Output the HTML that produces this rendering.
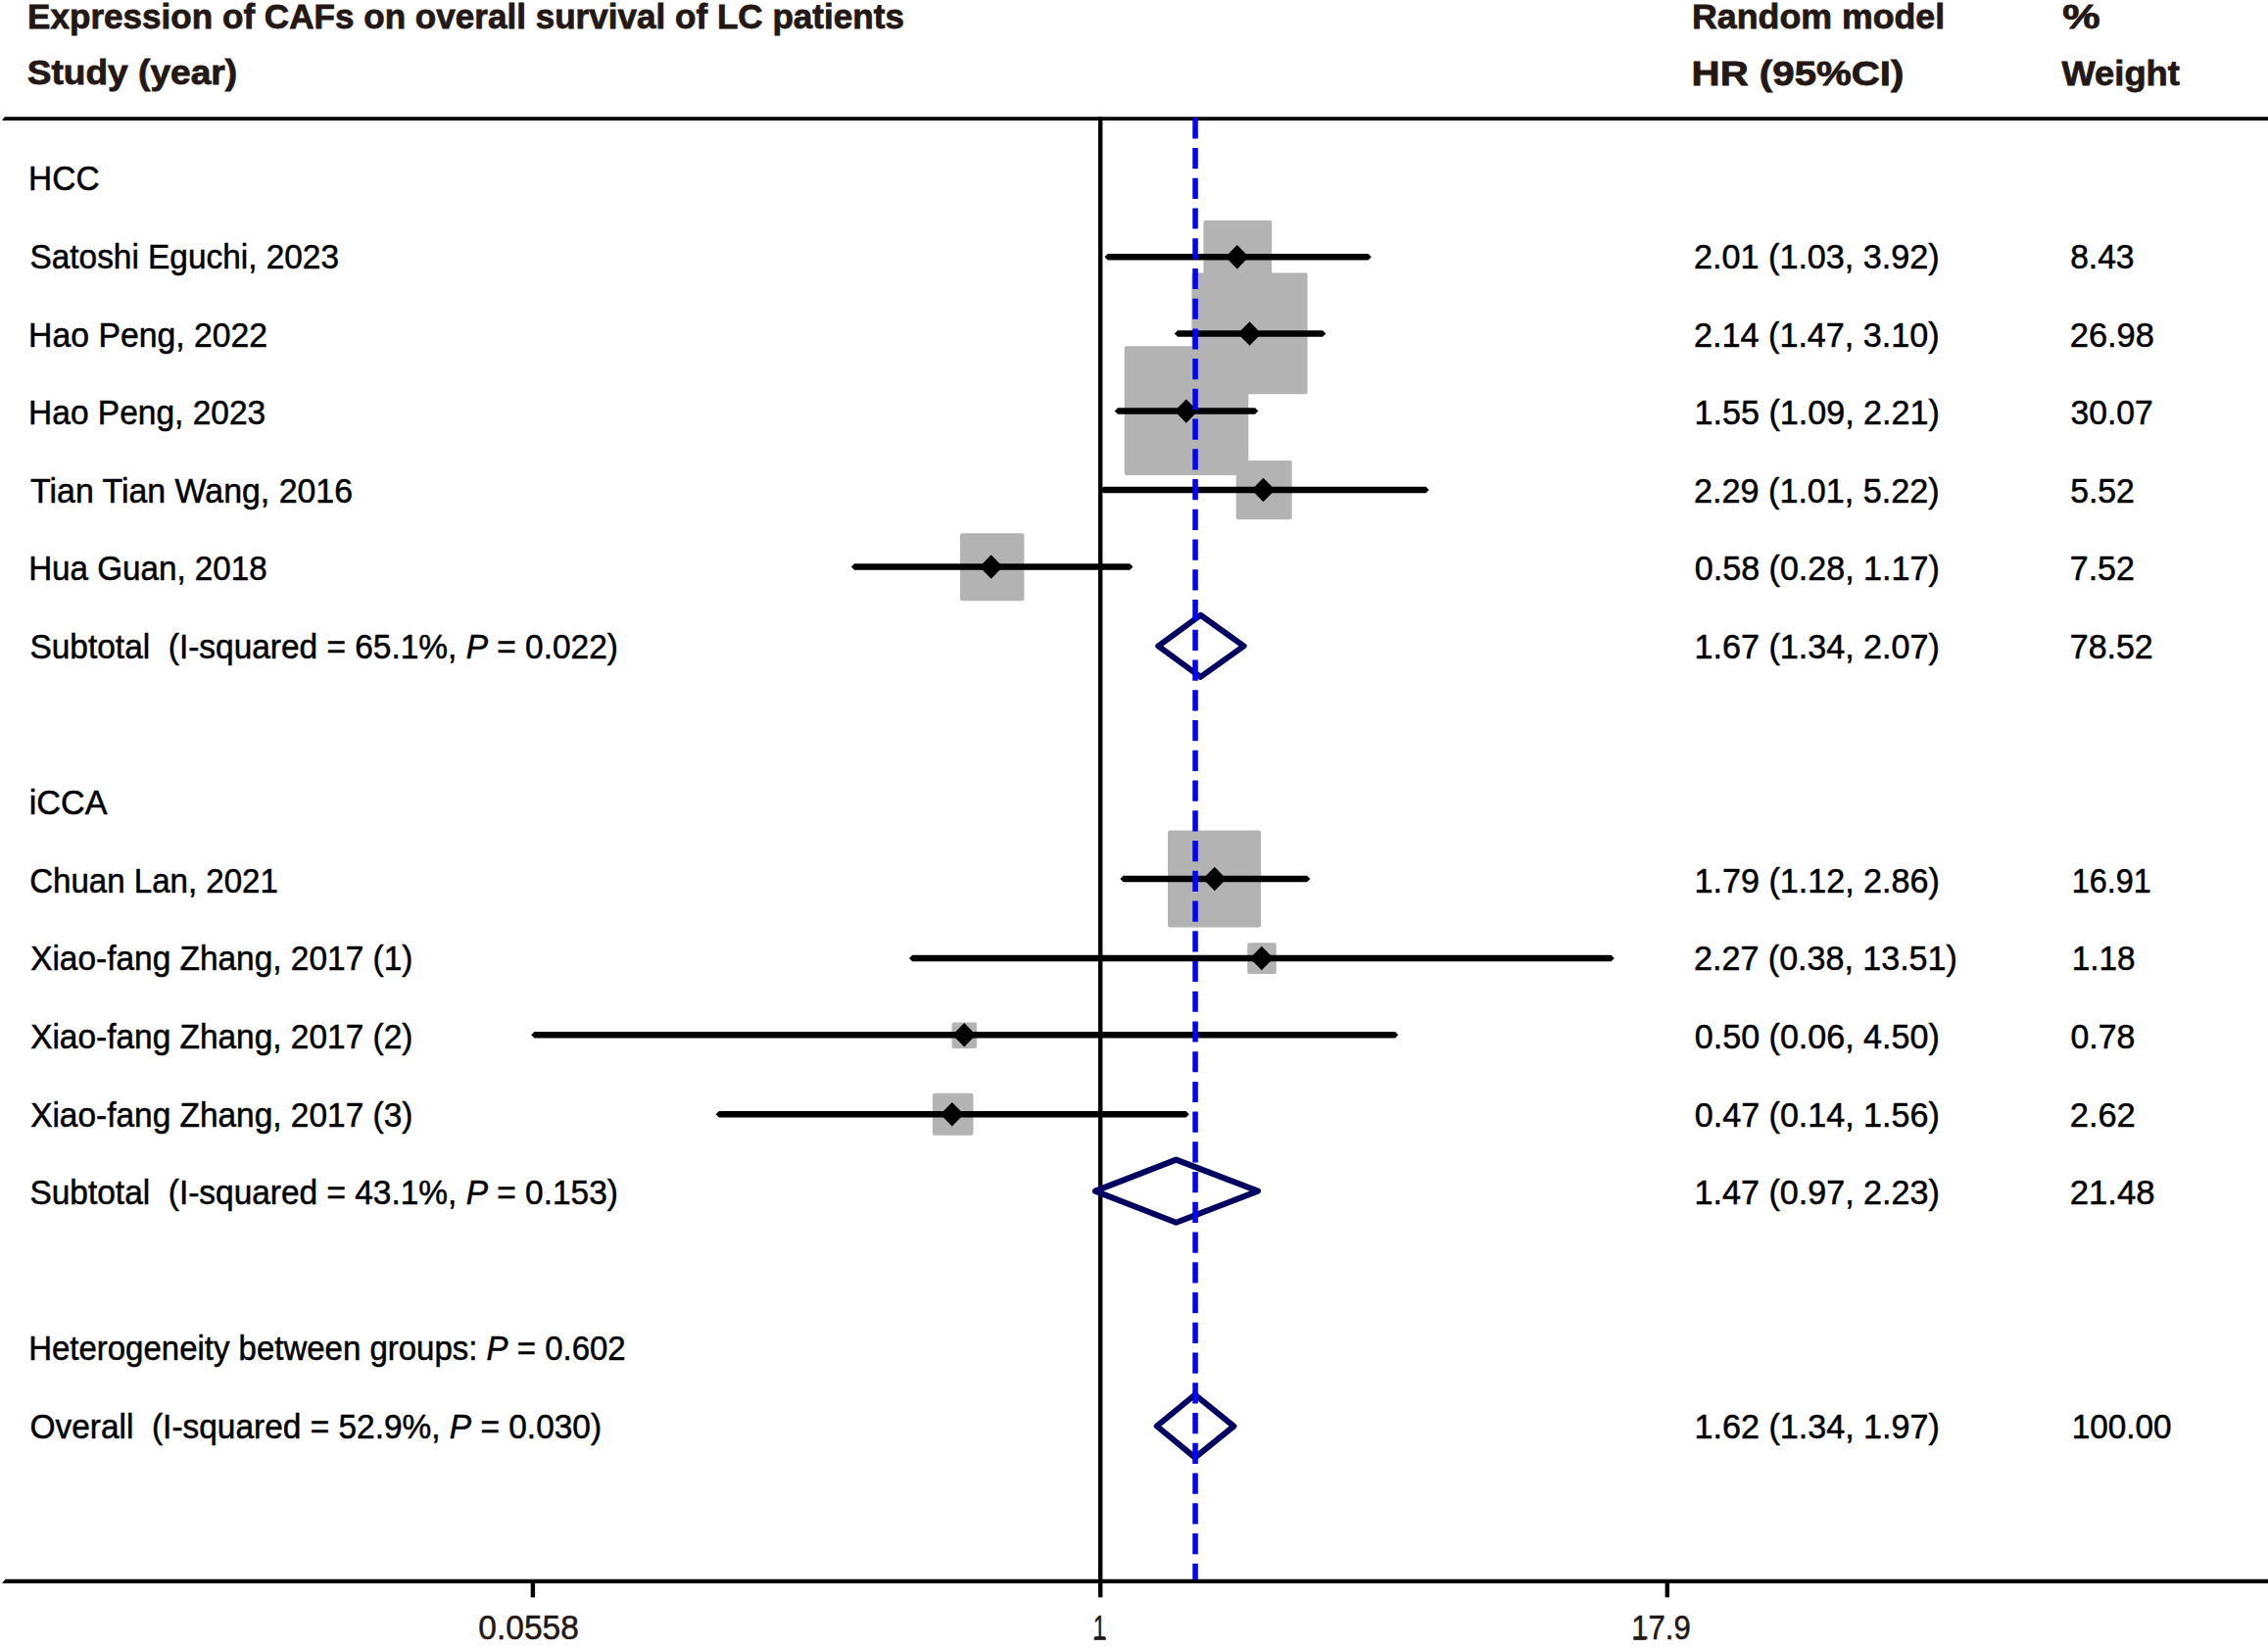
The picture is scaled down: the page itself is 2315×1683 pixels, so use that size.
<!DOCTYPE html>
<html><head><meta charset="utf-8"><style>
html,body{margin:0;padding:0;background:#fff;}
svg{display:block;}
text{font-family:'Liberation Sans', sans-serif;white-space:pre;}
</style></head><body>
<svg width="2315" height="1683" viewBox="0 0 2315 1683">
<rect width="2315" height="1683" fill="#fff"/>
<path d="M4.8 119.2 L2315 119.2 L2315 123.0 L2.0 123.0 Z" fill="#000"/>
<rect x="1121.0" y="119.2" width="4.4" height="1511.1" fill="#000"/>
<path d="M5.5 1611.8 L2315 1611.8 L2315 1616.1 L2.1 1616.1 Z" fill="#000"/>
<rect x="541.7" y="1614" width="4.4" height="16.3" fill="#000"/>
<rect x="1699.6" y="1614" width="4.4" height="16.3" fill="#000"/>
<rect x="1228.4" y="224.9" width="69.8" height="72.6" rx="2" fill="#b3b3b3"/>
<rect x="1216.4" y="278.4" width="118.2" height="123.9" rx="2" fill="#b3b3b3"/>
<rect x="1147.8" y="353.3" width="126.5" height="131.7" rx="2" fill="#b3b3b3"/>
<rect x="1261.7" y="469.9" width="57.0" height="60.3" rx="2" fill="#b3b3b3"/>
<rect x="980.0" y="544.2" width="65.4" height="69.1" rx="2" fill="#b3b3b3"/>
<rect x="1192.0" y="847.6" width="95.0" height="98.8" rx="2" fill="#b3b3b3"/>
<rect x="1273.2" y="962.3" width="29.6" height="31.7" rx="2" fill="#b3b3b3"/>
<rect x="971.6" y="1043.4" width="25.4" height="26.5" rx="2" fill="#b3b3b3"/>
<rect x="951.9" y="1115.7" width="41.6" height="43.0" rx="2" fill="#b3b3b3"/>
<path d="M1127.50 262.20 L1130.75 258.95 L1396.55 258.95 L1399.80 262.20 L1396.55 265.45 L1130.75 265.45 Z" fill="#000"/>
<path d="M1250.8 262.2 L1262.8 250.0 L1274.8 262.2 L1262.8 274.4 Z" fill="#000"/>
<path d="M1198.80 340.50 L1202.05 337.25 L1350.05 337.25 L1353.30 340.50 L1350.05 343.75 L1202.05 343.75 Z" fill="#000"/>
<path d="M1263.5 340.5 L1275.5 328.3 L1287.5 340.5 L1275.5 352.7 Z" fill="#000"/>
<path d="M1137.70 419.60 L1140.95 416.35 L1281.05 416.35 L1284.30 419.60 L1281.05 422.85 L1140.95 422.85 Z" fill="#000"/>
<path d="M1198.8 419.6 L1210.8 407.4 L1222.8 419.6 L1210.8 431.8 Z" fill="#000"/>
<path d="M1123.00 500.00 L1126.25 496.75 L1455.35 496.75 L1458.60 500.00 L1455.35 503.25 L1126.25 503.25 Z" fill="#000"/>
<path d="M1277.5 500.0 L1289.5 487.8 L1301.5 500.0 L1289.5 512.2 Z" fill="#000"/>
<path d="M868.80 578.50 L872.05 575.25 L1153.25 575.25 L1156.50 578.50 L1153.25 581.75 L872.05 581.75 Z" fill="#000"/>
<path d="M999.7 578.5 L1011.7 566.3 L1023.7 578.5 L1011.7 590.7 Z" fill="#000"/>
<path d="M1143.40 897.00 L1146.65 893.75 L1334.15 893.75 L1337.40 897.00 L1334.15 900.25 L1146.65 900.25 Z" fill="#000"/>
<path d="M1227.8 897.0 L1239.8 884.8 L1251.8 897.0 L1239.8 909.2 Z" fill="#000"/>
<path d="M928.00 978.00 L931.25 974.75 L1644.55 974.75 L1647.80 978.00 L1644.55 981.25 L931.25 981.25 Z" fill="#000"/>
<path d="M1275.8 978.0 L1287.8 965.8 L1299.8 978.0 L1287.8 990.2 Z" fill="#000"/>
<path d="M542.20 1056.30 L545.45 1053.05 L1424.05 1053.05 L1427.30 1056.30 L1424.05 1059.55 L545.45 1059.55 Z" fill="#000"/>
<path d="M972.2 1056.3 L984.2 1044.1 L996.2 1056.3 L984.2 1068.5 Z" fill="#000"/>
<path d="M730.60 1137.20 L733.85 1133.95 L1210.65 1133.95 L1213.90 1137.20 L1210.65 1140.45 L733.85 1140.45 Z" fill="#000"/>
<path d="M959.8 1137.2 L971.8 1125.0 L983.8 1137.2 L971.8 1149.4 Z" fill="#000"/>
<path d="M1182.30 659.35 L1225.40 627.80 L1269.60 659.35 L1225.40 690.90 Z" fill="none" stroke="#000060" stroke-width="6.0" stroke-linejoin="round"/>
<path d="M1117.90 1215.65 L1200.50 1183.60 L1284.00 1215.65 L1200.50 1247.70 Z" fill="none" stroke="#000060" stroke-width="6.0" stroke-linejoin="round"/>
<path d="M1180.80 1455.55 L1219.80 1423.50 L1259.40 1455.55 L1219.80 1487.60 Z" fill="none" stroke="#000060" stroke-width="6.0" stroke-linejoin="round"/>
<rect x="1116.7" y="1671.1" width="12.1" height="2.7" fill="#231815"/>
<rect x="1667.6" y="1671.1" width="12.2" height="2.7" fill="#231815"/>
<line x1="1220.05" y1="120.2" x2="1220.05" y2="1612" stroke="#0000ff" stroke-width="5.5" stroke-dasharray="21.2 9.54"/>
<text transform="translate(28.09 28.80) scale(0.9886 0.975)" font-size="35.5" font-weight="bold" fill="#231815" stroke="#231815" stroke-width="0.8">Expression of CAFs on overall survival of LC patients</text>
<text transform="translate(27.66 86.00) scale(1.0462 0.975)" font-size="35.5" font-weight="bold" fill="#231815" stroke="#231815" stroke-width="0.8">Study (year)</text>
<text transform="translate(1727.06 29.30) scale(1.0069 0.975)" font-size="35.5" font-weight="bold" fill="#231815" stroke="#231815" stroke-width="0.8">Random model</text>
<text transform="translate(2105.14 29.30) scale(1.2162 0.975)" font-size="35.5" font-weight="bold" fill="#231815" stroke="#231815" stroke-width="0.8">%</text>
<text transform="translate(1726.58 86.50) scale(1.1339 0.975)" font-size="35.5" font-weight="bold" fill="#231815" stroke="#231815" stroke-width="0.8">HR (95%CI)</text>
<text transform="translate(2104.50 86.50) scale(1.0233 0.975)" font-size="35.5" font-weight="bold" fill="#231815" stroke="#231815" stroke-width="0.8">Weight</text>
<text transform="translate(29.12 194.45) scale(1.0012 1.06)" font-size="33.4" font-weight="normal" fill="#000" stroke="#000" stroke-width="0.5">HCC</text>
<text transform="translate(30.46 274.05) scale(0.9996 1.06)" font-size="33.4" font-weight="normal" fill="#000" stroke="#000" stroke-width="0.5">Satoshi Eguchi, 2023</text>
<text transform="translate(29.10 353.65) scale(1.0110 1.06)" font-size="33.4" font-weight="normal" fill="#000" stroke="#000" stroke-width="0.5">Hao Peng, 2022</text>
<text transform="translate(29.12 433.25) scale(1.0032 1.06)" font-size="33.4" font-weight="normal" fill="#000" stroke="#000" stroke-width="0.5">Hao Peng, 2023</text>
<text transform="translate(31.12 512.85) scale(1.0148 1.06)" font-size="33.4" font-weight="normal" fill="#000" stroke="#000" stroke-width="0.5">Tian Tian Wang, 2016</text>
<text transform="translate(29.14 592.45) scale(0.9940 1.06)" font-size="33.4" font-weight="normal" fill="#000" stroke="#000" stroke-width="0.5">Hua Guan, 2018</text>
<text transform="translate(30.46 672.05) scale(1.0020 1.06)" font-size="33.4" font-weight="normal" fill="#000" stroke="#000" stroke-width="0.5">Subtotal  (I-squared = 65.1%, <tspan font-style='italic'>P</tspan> = 0.022)</text>
<text transform="translate(29.75 831.25) scale(1.0232 1.06)" font-size="33.4" font-weight="normal" fill="#000" stroke="#000" stroke-width="0.5">iCCA</text>
<text transform="translate(30.15 910.85) scale(0.9902 1.06)" font-size="33.4" font-weight="normal" fill="#000" stroke="#000" stroke-width="0.5">Chuan Lan, 2021</text>
<text transform="translate(31.13 990.45) scale(1.0013 1.06)" font-size="33.4" font-weight="normal" fill="#000" stroke="#000" stroke-width="0.5">Xiao-fang Zhang, 2017 (1)</text>
<text transform="translate(31.13 1070.05) scale(1.0013 1.06)" font-size="33.4" font-weight="normal" fill="#000" stroke="#000" stroke-width="0.5">Xiao-fang Zhang, 2017 (2)</text>
<text transform="translate(31.13 1149.65) scale(1.0013 1.06)" font-size="33.4" font-weight="normal" fill="#000" stroke="#000" stroke-width="0.5">Xiao-fang Zhang, 2017 (3)</text>
<text transform="translate(30.46 1229.25) scale(1.0020 1.06)" font-size="33.4" font-weight="normal" fill="#000" stroke="#000" stroke-width="0.5">Subtotal  (I-squared = 43.1%, <tspan font-style='italic'>P</tspan> = 0.153)</text>
<text transform="translate(29.16 1388.45) scale(0.9875 1.06)" font-size="33.4" font-weight="normal" fill="#000" stroke="#000" stroke-width="0.5">Heterogeneity between groups: <tspan font-style='italic'>P</tspan> = 0.602</text>
<text transform="translate(30.46 1468.05) scale(1.0018 1.06)" font-size="33.4" font-weight="normal" fill="#000" stroke="#000" stroke-width="0.5">Overall  (I-squared = 52.9%, <tspan font-style='italic'>P</tspan> = 0.030)</text>
<text transform="translate(1729.09 274.05) scale(1.0229 1.06)" font-size="33.4" font-weight="normal" fill="#000" stroke="#000" stroke-width="0.5">2.01 (1.03, 3.92)</text>
<text transform="translate(2113.16 274.05) scale(1.0054 1.06)" font-size="33.4" font-weight="normal" fill="#000" stroke="#000" stroke-width="0.5">8.43</text>
<text transform="translate(1729.09 353.65) scale(1.0229 1.06)" font-size="33.4" font-weight="normal" fill="#000" stroke="#000" stroke-width="0.5">2.14 (1.47, 3.10)</text>
<text transform="translate(2112.78 353.65) scale(1.0309 1.06)" font-size="33.4" font-weight="normal" fill="#000" stroke="#000" stroke-width="0.5">26.98</text>
<text transform="translate(1729.61 433.25) scale(1.0208 1.06)" font-size="33.4" font-weight="normal" fill="#000" stroke="#000" stroke-width="0.5">1.55 (1.09, 2.21)</text>
<text transform="translate(2113.49 433.25) scale(1.0082 1.06)" font-size="33.4" font-weight="normal" fill="#000" stroke="#000" stroke-width="0.5">30.07</text>
<text transform="translate(1729.09 512.85) scale(1.0229 1.06)" font-size="33.4" font-weight="normal" fill="#000" stroke="#000" stroke-width="0.5">2.29 (1.01, 5.22)</text>
<text transform="translate(2113.15 512.85) scale(1.0108 1.06)" font-size="33.4" font-weight="normal" fill="#000" stroke="#000" stroke-width="0.5">5.52</text>
<text transform="translate(1729.78 592.45) scale(1.0201 1.06)" font-size="33.4" font-weight="normal" fill="#000" stroke="#000" stroke-width="0.5">0.58 (0.28, 1.17)</text>
<text transform="translate(2112.80 592.45) scale(1.0163 1.06)" font-size="33.4" font-weight="normal" fill="#000" stroke="#000" stroke-width="0.5">7.52</text>
<text transform="translate(1729.61 672.05) scale(1.0208 1.06)" font-size="33.4" font-weight="normal" fill="#000" stroke="#000" stroke-width="0.5">1.67 (1.34, 2.07)</text>
<text transform="translate(2112.80 672.05) scale(1.0165 1.06)" font-size="33.4" font-weight="normal" fill="#000" stroke="#000" stroke-width="0.5">78.52</text>
<text transform="translate(1729.61 910.85) scale(1.0208 1.06)" font-size="33.4" font-weight="normal" fill="#000" stroke="#000" stroke-width="0.5">1.79 (1.12, 2.86)</text>
<text transform="translate(2114.74 910.85) scale(0.9686 1.06)" font-size="33.4" font-weight="normal" fill="#000" stroke="#000" stroke-width="0.5">16.91</text>
<text transform="translate(1729.10 990.45) scale(1.0195 1.06)" font-size="33.4" font-weight="normal" fill="#000" stroke="#000" stroke-width="0.5">2.27 (0.38, 13.51)</text>
<text transform="translate(2114.67 990.45) scale(0.9958 1.06)" font-size="33.4" font-weight="normal" fill="#000" stroke="#000" stroke-width="0.5">1.18</text>
<text transform="translate(1729.78 1070.05) scale(1.0201 1.06)" font-size="33.4" font-weight="normal" fill="#000" stroke="#000" stroke-width="0.5">0.50 (0.06, 4.50)</text>
<text transform="translate(2113.48 1070.05) scale(1.0144 1.06)" font-size="33.4" font-weight="normal" fill="#000" stroke="#000" stroke-width="0.5">0.78</text>
<text transform="translate(1729.78 1149.65) scale(1.0201 1.06)" font-size="33.4" font-weight="normal" fill="#000" stroke="#000" stroke-width="0.5">0.47 (0.14, 1.56)</text>
<text transform="translate(2112.78 1149.65) scale(1.0308 1.06)" font-size="33.4" font-weight="normal" fill="#000" stroke="#000" stroke-width="0.5">2.62</text>
<text transform="translate(1729.61 1229.25) scale(1.0208 1.06)" font-size="33.4" font-weight="normal" fill="#000" stroke="#000" stroke-width="0.5">1.47 (0.97, 2.23)</text>
<text transform="translate(2112.77 1229.25) scale(1.0371 1.06)" font-size="33.4" font-weight="normal" fill="#000" stroke="#000" stroke-width="0.5">21.48</text>
<text transform="translate(1729.61 1468.05) scale(1.0208 1.06)" font-size="33.4" font-weight="normal" fill="#000" stroke="#000" stroke-width="0.5">1.62 (1.34, 1.97)</text>
<text transform="translate(2114.67 1468.05) scale(0.9979 1.06)" font-size="33.4" font-weight="normal" fill="#000" stroke="#000" stroke-width="0.5">100.00</text>
<text transform="translate(488.29 1673.40) scale(1.0035 1.06)" font-size="33.4" font-weight="normal" fill="#231815" stroke="#231815" stroke-width="0.5">0.0558</text>
<text transform="translate(1115.91 1673.40) scale(0.6805 1.06)" font-size="33.4" font-weight="normal" fill="#231815" stroke="#231815" stroke-width="0.5">1</text>
<text transform="translate(1665.33 1673.40) scale(0.9292 1.06)" font-size="33.4" font-weight="normal" fill="#231815" stroke="#231815" stroke-width="0.5">17.9</text>
</svg>
</body></html>
